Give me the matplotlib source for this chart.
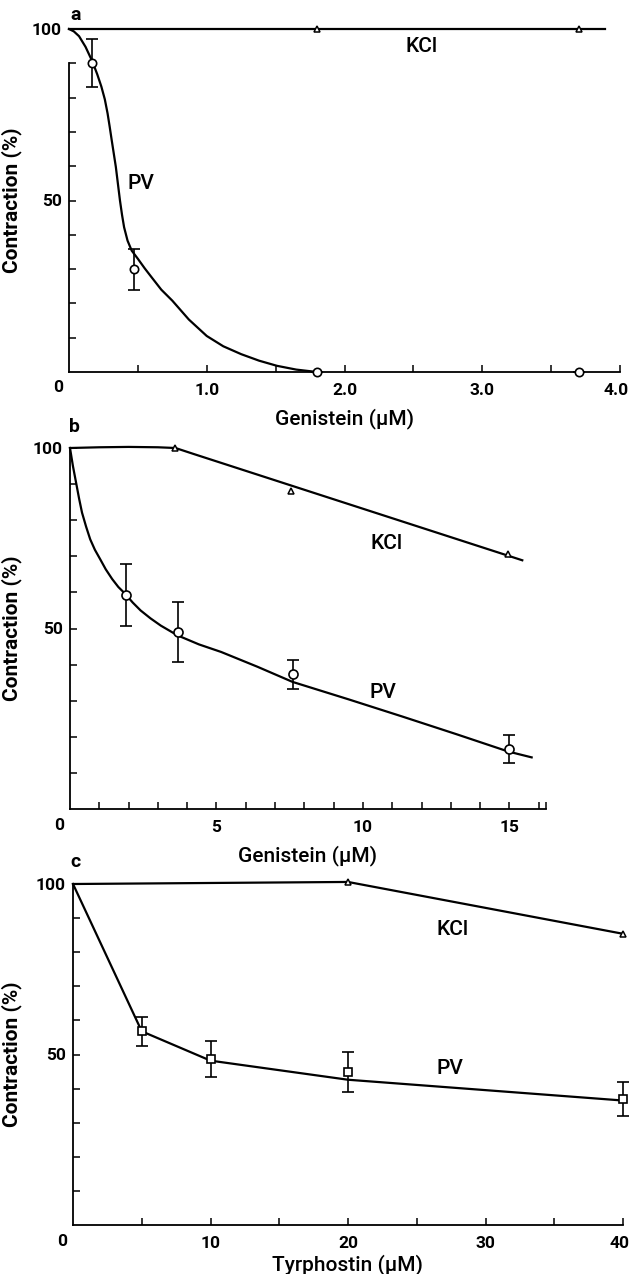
import matplotlib
matplotlib.use("Agg")
import matplotlib.pyplot as plt
import matplotlib.transforms as mtrans

plt.rcParams['font.family'] = ['Roboto', 'Liberation Sans', 'DejaVu Sans']

# ---------------- data ----------------
# Panel a (Genistein, low range)
a_kcl_x = [1.8, 3.7]
a_kcl_y = [100, 100]
a_kcl_line_x = [0, 3.89]
a_kcl_line_y = [100, 100]
a_pv_x = [0.17, 0.47, 1.8, 3.7]
a_pv_y = [90, 30, 0, 0]
a_pv_err = [7, 6, 0, 0]
a_pv_curve_x = [0, 0.035, 0.073, 0.12, 0.17, 0.205, 0.235, 0.26, 0.28, 0.295, 0.31,
                0.325, 0.34, 0.355, 0.37, 0.385, 0.40, 0.425, 0.455, 0.5, 0.55,
                0.6, 0.67, 0.75, 0.87, 1.0, 1.12, 1.25, 1.38, 1.51, 1.65, 1.8]
a_pv_curve_y = [100, 99.3, 97.9, 94.8, 90.5, 86.8, 83.2, 79.5, 75.4, 71.6, 67.6,
                63.7, 59.8, 54.9, 50, 45.8, 42.2, 38.3, 35.4, 33.0, 30.2,
                27.6, 24.0, 20.8, 15.3, 10.5, 7.5, 5.2, 3.3, 1.8, 0.7, 0]

# Panel b (Genistein, high range)
b_kcl_x = [3.6, 7.55, 14.95]
b_kcl_y = [100, 88, 70.6]
b_kcl_line_x = [0, 1, 2, 3, 3.6, 4.2, 15.44]
b_kcl_line_y = [100, 100.2, 100.3, 100.2, 100, 98.4, 68.9]
b_pv_x = [1.9, 3.67, 7.6, 14.97]
b_pv_y = [59.3, 49.0, 37.3, 16.6]
b_pv_err = [8.6, 8.4, 4.1, 3.8]
b_pv_curve_x = [0, 0.1, 0.21, 0.31, 0.41, 0.55, 0.69, 0.85, 1.03, 1.22, 1.44, 1.65,
                1.885, 2.14, 2.41, 2.75, 3.10, 3.67, 4.4, 5.16, 6.4, 7.6, 9.5,
                11.35, 13.2, 14.97, 15.76]
b_pv_curve_y = [100, 95.0, 90.3, 86.0, 82.1, 78.2, 74.7, 71.8, 69.2, 66.4, 63.7, 61.5,
                59.6, 57.2, 55.0, 52.8, 50.8, 48.1, 45.6, 43.5, 39.4, 35.2, 30.4,
                25.6, 20.7, 15.9, 14.3]

# Panel c (Tyrphostin)
c_kcl_x = [20, 40]
c_kcl_y = [100.6, 85.4]
c_kcl_line_x = [0, 20, 40]
c_kcl_line_y = [100, 100.6, 85.4]
c_pv_x = [5, 10, 20, 40]
c_pv_y = [56.8, 48.7, 44.8, 36.9]
c_pv_err = [4.3, 5.2, 5.8, 4.9]
c_pv_line_x = [0, 5, 10, 20, 40]
c_pv_line_y = [100, 56.8, 48.2, 42.6, 36.5]

W, H = 631, 1274
fig = plt.figure(figsize=(W / 100, H / 100), dpi=100)


def make_axes(left, right, top, bottom):
    return fig.add_axes([left / W, 1 - bottom / H, (right - left) / W, (bottom - top) / H])


TICKFS = 12.5
LABELFS = 15
ANNFS = 15
LW = 1.6


def style(ax, xmax, xticks, xlabels, xlabel, ylab_frac, xlab_frac):
    ax.set_xlim(0, xmax)
    ax.set_ylim(0, 100)
    for s in ['top', 'right']:
        ax.spines[s].set_visible(False)
    for s in ['left', 'bottom']:
        ax.spines[s].set_linewidth(1.3)
    ax.set_xticks(xticks)
    ax.set_xticklabels(xlabels, fontsize=TICKFS, fontweight='bold')
    ax.set_yticks(list(range(10, 101, 10)))
    ax.set_yticklabels(['50' if v == 50 else ('100' if v == 100 else '') for v in range(10, 101, 10)],
                       fontsize=TICKFS, fontweight='bold')
    ax.tick_params(direction='in', length=5, width=1.1, pad=5)
    ax.tick_params(axis='x', pad=8)
    ax.set_xlabel(xlabel, fontsize=LABELFS, fontweight='medium')
    ax.set_ylabel('Contraction (%)', fontsize=LABELFS, fontweight='bold')
    ax.xaxis.set_label_coords(0.5, xlab_frac)
    ax.yaxis.set_label_coords(ylab_frac, 0.5)
    ax.annotate('0', xy=(0, 0), xycoords='axes fraction', xytext=(-11, -16),
                textcoords='offset pixels', ha='center', va='center',
                fontsize=TICKFS, fontweight='bold')


def shift_last_xlabel(ax, dx_px):
    lbl = ax.get_xticklabels()[-1]
    lbl.set_transform(lbl.get_transform() +
                      mtrans.ScaledTranslation(dx_px / 100, 0, fig.dpi_scale_trans))


def pv_points(ax, x, y, err, marker, ms):
    ax.errorbar(x, y, yerr=err, fmt='none', ecolor='black', elinewidth=1.2,
                capsize=4, capthick=1.2, zorder=3, clip_on=False)
    ax.plot(x, y, linestyle='none', marker=marker, ms=ms, mfc='white', mec='black',
            mew=1.2, zorder=4, clip_on=False)


# ---------------- panel a ----------------
ax = make_axes(69, 620, 29, 372)
ax.plot(a_kcl_line_x, a_kcl_line_y, color='black', lw=LW, clip_on=False, zorder=2)
ax.plot(a_pv_curve_x, a_pv_curve_y, color='black', lw=LW, clip_on=False, zorder=2,
        solid_joinstyle='round')
ax.plot(a_kcl_x, a_kcl_y, linestyle='none', marker='^', ms=5, mfc='white', mec='black',
        mew=1.1, zorder=4, clip_on=False)
pv_points(ax, a_pv_x, a_pv_y, a_pv_err, 'o', 6)
xt = [0.5, 1.0, 1.5, 2.0, 2.5, 3.0, 3.5, 4.0]
style(ax, 4.0, xt, ['' if v % 1 else f'{v:.1f}' for v in xt], 'Genistein (μM)', -0.085, -0.105)
shift_last_xlabel(ax, -4)
ax.spines['left'].set_bounds(0, 90)
ax.text(2.56, 94.8, 'KCl', fontsize=ANNFS, fontweight='medium', ha='center', va='center')
ax.text(0.52, 55.1, 'PV', fontsize=ANNFS, fontweight='medium', ha='center', va='center')
fig.text(76 / W, 1 - 15 / H, 'a', fontsize=14, fontweight='bold', ha='center', va='center')

# ---------------- panel b ----------------
ax = make_axes(70, 546, 448, 809)
ax.plot(b_kcl_line_x, b_kcl_line_y, color='black', lw=LW, clip_on=False, zorder=2)
ax.plot(b_pv_curve_x, b_pv_curve_y, color='black', lw=LW, clip_on=False, zorder=2,
        solid_joinstyle='round')
ax.plot(b_kcl_x, b_kcl_y, linestyle='none', marker='^', ms=5, mfc='white', mec='black',
        mew=1.1, zorder=4, clip_on=False)
pv_points(ax, b_pv_x, b_pv_y, b_pv_err, 'o', 6.5)
xt = list(range(1, 17)) + [16.25]
style(ax, 16.25, xt, [str(v) if v in (5, 10, 15) else '' for v in xt], 'Genistein (μM)', -0.10, -0.10)
ax.text(10.8, 73.6, 'KCl', fontsize=ANNFS, fontweight='medium', ha='center', va='center')
ax.text(10.7, 32.3, 'PV', fontsize=ANNFS, fontweight='medium', ha='center', va='center')
fig.text(74 / W, 1 - 427 / H, 'b', fontsize=14, fontweight='bold', ha='center', va='center')

# ---------------- panel c ----------------
ax = make_axes(73, 623, 884, 1225)
ax.plot(c_kcl_line_x, c_kcl_line_y, color='black', lw=LW, clip_on=False, zorder=2)
ax.plot(c_pv_line_x, c_pv_line_y, color='black', lw=LW, clip_on=False, zorder=2)
ax.plot(c_kcl_x, c_kcl_y, linestyle='none', marker='^', ms=5, mfc='white', mec='black',
        mew=1.1, zorder=4, clip_on=False)
pv_points(ax, c_pv_x, c_pv_y, c_pv_err, 's', 5.5)
xt = list(range(5, 41, 5))
style(ax, 40, xt, [str(v) if v % 10 == 0 else '' for v in xt], 'Tyrphostin (μM)', -0.093, -0.085)
shift_last_xlabel(ax, -3)
ax.text(27.6, 86.8, 'KCl', fontsize=ANNFS, fontweight='medium', ha='center', va='center')
ax.text(27.4, 46.0, 'PV', fontsize=ANNFS, fontweight='medium', ha='center', va='center')
fig.text(75 / W, 1 - 862 / H, 'c', fontsize=14, fontweight='bold', ha='center', va='center')

fig.savefig('out.png', dpi=100, facecolor='white')
